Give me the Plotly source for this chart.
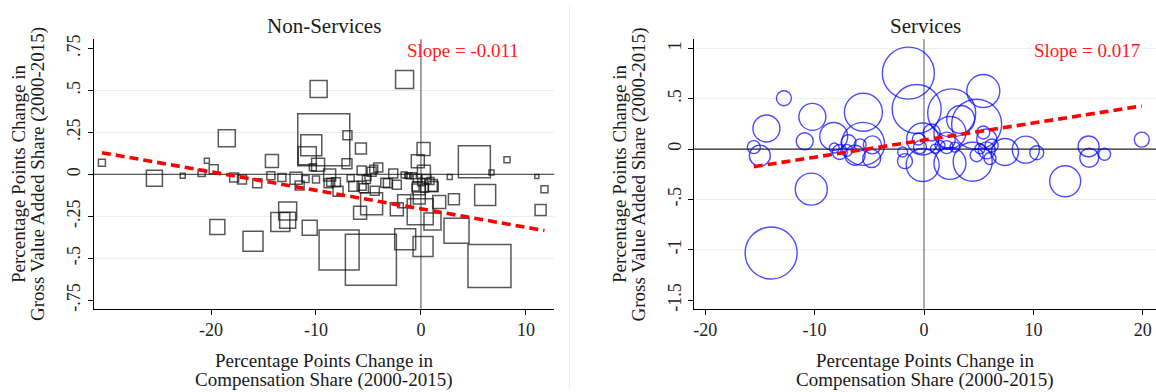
import plotly.graph_objects as go

W, H = 1156, 392
FONT = "Liberation Serif"

# ---- Non-Services industries: change in compensation share vs change in GVA share
ns_x = [-30.4, -25.4, -18.5, -22.7, -20.4, -20.9, -19.75, -17.8, -17.05, -15.6,
        -19.4, -16.0, -9.75, -1.56, -9.26, -10.45, -10.83, -9.8, -7.0, -5.72,
        -7.05, -14.2, -10.3, -14.3, -13.25, -11.9, -11.56, -11.0, -10.0, -8.7,
        -8.6, -8.1, -7.9, -6.7, -6.4, -5.65, -5.44, -4.7, -4.07, -5.05,
        -4.4, -4.7, -5.8, -2.64, -3.15, -2.3, -1.6, -1.15, -1.6, -2.3,
        -12.7, -13.4, -12.7, -10.6, -7.8, -4.77, -1.5, 0.25, -0.3, 0.28,
        -0.2, 0.98, -0.16, 1.74, -0.07, 1.1, 0.2, 5.09, 8.2, 6.72,
        2.75, 11.04, 11.77, 11.4, 3.14, 6.12, 3.39, 6.53, -1.3, -0.73,
        -0.35, 0.03, 0.53, 0.91, 0.34, 1.17, -0.51, -3.4, -4.5, -5.2,
        -8.8, -5.65]
ns_y = [0.07, -0.023, 0.216, -0.008, 0.082, 0.008, 0.031, -0.019, -0.031, -0.053,
        -0.313, -0.398, 0.509, 0.565, 0.207, 0.174, 0.111, 0.057, 0.234, 0.154,
        0.063, 0.08, 0.043, -0.008, -0.019, -0.023, -0.066, -0.027, -0.031, -0.004,
        -0.047, -0.047, -0.101, -0.023, -0.07, 0.023, -0.082, 0.016, 0.041, -0.019,
        -0.097, -0.175, -0.228, 0.006, -0.053, -0.062, -0.004, -0.008, -0.16, -0.208,
        -0.218, -0.283, -0.273, -0.318, -0.451, -0.509, -0.386, 0.152, 0.078, 0.016,
        -0.082, -0.066, -0.14, -0.164, -0.222, -0.28, -0.429, 0.076, 0.088, 0.012,
        -0.015, -0.013, -0.088, -0.212, -0.148, -0.123, -0.335, -0.546, -0.008, -0.008,
        -0.023, -0.047, -0.027, -0.039, -0.082, -0.072, -0.078, -0.05, 0.03, -0.03,
        -0.053, -0.068]
ns_size = [7, 16, 17, 5, 5, 7, 9, 9, 9, 9,
           15, 20, 17, 18, 52, 21, 18, 13, 9, 11,
           10, 13, 7, 8, 8, 12, 9, 7, 7, 12,
           8, 9, 10, 7, 10, 9, 9, 9, 9, 6,
           9, 22, 13, 9, 9, 9, 6, 6, 13, 13,
           18, 19, 16, 15, 40, 51, 21, 13, 13, 13,
           13, 12, 12, 13, 26, 17, 20, 32, 6, 5,
           5, 4, 7, 11, 11, 21, 25, 43, 5, 6,
           8, 7, 9, 7, 8, 10, 7, 9, 8, 8,
           9, 9]
ns_slope, ns_intercept = -0.011, -0.205

# ---- Services industries
sv_x = [-12.8, -14.4, -15.55, -15.0, -10.2, -10.9, -10.3, -13.97, -8.25, -8.2,
        -7.7, -5.54, -5.57, -4.72, -4.78, -6.9, -7.06, -5.84, -6.3, -1.95,
        -1.74, -1.43, -0.67, 5.42, 2.53, 4.81, 3.35, 2.37, -0.12, -0.12,
        2.37, 4.45, -0.37, -0.52, 0.7, 1.46, 1.0, 2.07, 2.07, 2.83,
        4.81, 5.73, 5.73, 6.03, 5.11, 6.18, 5.42, 7.4, 9.3, 10.3,
        12.9, 15.04, 15.1, 16.5, 19.9]
sv_y = [0.505, 0.204, 0.019, -0.065, 0.32, 0.078, -0.398, -1.032, 0.125, 0.01,
        -0.029, 0.366, 0.051, 0.042, -0.094, 0.068, -0.013, 0.042, -0.061, -0.029,
        -0.12, 0.754, 0.398, 0.576, 0.359, 0.246, 0.294, 0.165, 0.10, -0.158,
        -0.142, -0.126, 0.019, 0.10, 0.165, 0.036, 0.003, 0.084, 0.019, 0.019,
        -0.061, 0.10, -0.013, -0.094, 0.003, 0.036, 0.165, -0.029, -0.006, -0.036,
        -0.32, 0.026, -0.087, -0.052, 0.094]
sv_size = [15, 27, 13, 21, 27, 17, 32, 52, 28, 10,
           15, 38, 43, 18, 18, 15, 12, 12, 20, 10,
           15, 52, 49, 33, 48, 50, 28, 32, 32, 33,
           32, 39, 13, 12, 17, 10, 9, 17, 13, 10,
           13, 20, 17, 12, 10, 13, 13, 27, 27, 14,
           31, 21, 19, 12, 15]
sv_slope, sv_intercept = 0.017, 0.089

# ---- axis ticks
ns_xticks = [-20, -10, 0, 10]
ns_yticks = [0.75, 0.5, 0.25, 0, -0.25, -0.5, -0.75]
ns_ylabels = [".75", ".5", ".25", "0", "-.25", "-.5", "-.75"]
ns_grid = [0.5, 0.25, -0.25, -0.5]
sv_xticks = [-20, -10, 0, 10, 20]
sv_yticks = [1, 0.5, 0, -0.5, -1, -1.5]
sv_ylabels = ["1", ".5", "0", "-.5", "-1", "-1.5"]
sv_grid = [1, 0.5, -0.5, -1]


def fit_line(xs, slope, intercept):
    lo, hi = min(xs), max(xs)
    return [lo, hi], [intercept + slope * lo, intercept + slope * hi]


def px(v):
    return v / W


def py(v):
    return 1 - v / H


fig = go.Figure()

fig.add_trace(go.Scatter(
    x=ns_x, y=ns_y, mode="markers", xaxis="x", yaxis="y",
    marker=dict(symbol="square-open", size=ns_size, color="#111111",
                line=dict(width=1.5, color="#111111")),
    hoverinfo="skip", showlegend=False))
fx, fy = fit_line(ns_x, ns_slope, ns_intercept)
fig.add_trace(go.Scatter(
    x=fx, y=fy, mode="lines", xaxis="x", yaxis="y",
    line=dict(color="#ff0000", width=3.6, dash="9px,5px"),
    hoverinfo="skip", showlegend=False))

fig.add_trace(go.Scatter(
    x=sv_x, y=sv_y, mode="markers", xaxis="x2", yaxis="y2",
    marker=dict(symbol="circle-open", size=sv_size, color="#0000ff",
                line=dict(width=1.4, color="#0000ff")),
    hoverinfo="skip", showlegend=False))
fx, fy = fit_line(sv_x, sv_slope, sv_intercept)
fig.add_trace(go.Scatter(
    x=fx, y=fy, mode="lines", xaxis="x2", yaxis="y2",
    line=dict(color="#ff0000", width=3.6, dash="9px,5px"),
    hoverinfo="skip", showlegend=False))

tick_font = dict(family=FONT, size=18, color="#222222")
common_x = dict(ticks="outside", ticklen=5, tickwidth=1, tickcolor="#000000",
                showline=True, linecolor="#000000", linewidth=1,
                showgrid=False, zeroline=False, tickfont=tick_font)
common_y = dict(ticks="outside", ticklen=5, tickwidth=1, tickcolor="#000000",
                showline=True, linecolor="#000000", linewidth=1,
                showgrid=False, zeroline=False, tickfont=tick_font,
                tickangle=-90)

ydom = [py(310), py(35)]
fig.update_layout(
    width=W, height=H,
    margin=dict(l=0, r=0, t=0, b=0),
    paper_bgcolor="white", plot_bgcolor="white",
    xaxis=dict(domain=[px(92.6), px(553.7)], range=[-31.2, 12.7], anchor="y",
               tickvals=ns_xticks, ticktext=[str(v) for v in ns_xticks], **common_x),
    yaxis=dict(domain=ydom, range=[-0.80, 0.805], anchor="x",
               tickvals=ns_yticks, ticktext=ns_ylabels, **common_y),
    xaxis2=dict(domain=[px(693.8), 1.0], range=[-21.0, 21.2], anchor="y2",
                tickvals=sv_xticks, ticktext=[str(v) for v in sv_xticks], **common_x),
    yaxis2=dict(domain=ydom, range=[-1.585, 1.09], anchor="x2",
                tickvals=sv_yticks, ticktext=sv_ylabels, **common_y),
)

shapes = []
for g in ns_grid:
    shapes.append(dict(type="line", xref="x domain", yref="y", x0=0, x1=1, y0=g, y1=g,
                       line=dict(color="#e6edf0", width=1), layer="below"))
for g in sv_grid:
    shapes.append(dict(type="line", xref="x2 domain", yref="y2", x0=0, x1=1, y0=g, y1=g,
                       line=dict(color="#e6edf0", width=1), layer="below"))
# reference lines through the origin
shapes += [
    dict(type="line", xref="x domain", yref="y", x0=0, x1=1, y0=0, y1=0,
         line=dict(color="#555555", width=1.2), layer="below"),
    dict(type="line", xref="x", yref="y domain", x0=0, x1=0, y0=0, y1=1,
         line=dict(color="#666666", width=1.2), layer="below"),
    dict(type="line", xref="x2 domain", yref="y2", x0=0, x1=1, y0=0, y1=0,
         line=dict(color="#222222", width=1.2), layer="below"),
    dict(type="line", xref="x2", yref="y2 domain", x0=0, x1=0, y0=0, y1=1,
         line=dict(color="#707070", width=1.2), layer="below"),
    # separator between the two graphs
    dict(type="line", xref="paper", yref="paper", x0=px(569), x1=px(569), y0=0, y1=1,
         line=dict(color="#ececec", width=1), layer="below"),
]
fig.update_layout(shapes=shapes)

text_col = "#1a1a1a"
ann = []


def label(text, x, y, size=19, color=text_col, angle=0):
    ann.append(dict(text=text, x=px(x), y=py(y), xref="paper", yref="paper",
                    showarrow=False, xanchor="center", yanchor="middle",
                    textangle=angle, font=dict(family=FONT, size=size, color=color)))


for cx, yl1, yl2, title, slope_txt, sx in [
        (323.0, 18.0, 37.0, "Non-Services", "Slope = -0.011", 462.0),
        (925.0, 619.5, 639.0, "Services", "Slope = 0.017", 1087.0)]:
    label(title, cx, 21, size=21)
    label(slope_txt, sx, 46, size=19, color="#ff1a1a")
    label("Percentage Points Change in", cx, 363)
    label("Compensation Share (2000-2015)", cx, 383)
    label("Percentage Points Change in", yl1, 172.5, angle=-90)
    label("Gross Value Added Share (2000-2015)", yl2, 172.5, angle=-90)

fig.update_layout(annotations=ann)

fig.write_html("out.html")
